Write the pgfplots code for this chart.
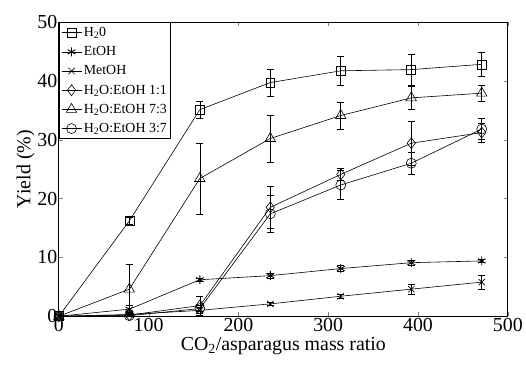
\documentclass[border=0pt]{standalone}
\usepackage{pgfplots}
\pgfplotsset{compat=1.18}
\usetikzlibrary{calc}
\usepackage{fontspec}
\setmainfont{Liberation Serif}
\begin{document}
\begin{tikzpicture}
\begin{axis}[
  name=ax,
  scale only axis,
  width=450bp, height=295bp,
  xmin=0, xmax=500, ymin=0, ymax=50,
  xtick={0,100,...,500}, ytick={0,10,...,50},
  tick align=inside, ticklabel pos=left,
  xtick pos=both, ytick pos=both,
  major tick length=4bp,
  /pgf/number format/assume math mode=true,
  tick label style={font=\fontsize{20}{20}\selectfont},
  xticklabel style={yshift=1bp},
  yticklabel style={xshift=2bp},
  xlabel={CO\textsubscript{2}/asparagus mass ratio},
  ylabel={Yield (\%)},
  label style={font=\fontsize{20}{20}\selectfont},
  xlabel style={yshift=2bp},
  ylabel style={yshift=-4bp},
  axis line style={line width=0.8pt},
  every axis plot/.append style={line width=0.6pt},
  error bars/y dir=both, error bars/y explicit,
  error bars/error mark options={rotate=90, mark size=3.5bp, line width=0.6pt, black},
  error bars/error bar style={line width=0.6pt, black},
  legend cell align=left,
  legend style={font=\fontsize{14}{15}\selectfont, draw=black, line width=0.8pt, inner xsep=2bp, inner ysep=3bp, row sep=4.5bp, at={(0,1)}, anchor=north west},
  legend image code/.code={\draw[mark repeat=2,mark phase=2] plot coordinates {(0bp,0bp) (10bp,0bp) (20bp,0bp)};},
]
\addplot[black, solid, mark=square, mark size=4.5bp, mark options={solid, fill=white}] coordinates {
 (0,0) +- (0,0.3)
 (78.5,16.2) +- (0,0.6)
 (157,35.1) +- (0,1.5)
 (235.5,39.7) +- (0,2.3)
 (314,41.7) +- (0,2.4)
 (392.5,41.9) +- (0,2.6)
 (471,42.8) +- (0,2.1)
};
\addlegendentry{H\textsubscript{2}0}
\addplot[black, solid, mark=asterisk, mark size=4.5bp, mark options={solid, line width=0.9pt}] coordinates {
 (0,0) +- (0,0.2)
 (78.5,1.2) +- (0,0.6)
 (157,6.2) +- (0,0.3)
 (235.5,6.9) +- (0,0.4)
 (314,8.1) +- (0,0.5)
 (392.5,9.1) +- (0,0.4)
 (471,9.4) +- (0,0.3)
};
\addlegendentry{EtOH}
\addplot[black, solid, mark=x, mark size=4.5bp, mark options={solid}] coordinates {
 (0,0) +- (0,0.1)
 (78.5,0.3) +- (0,0.2)
 (157,1.0) +- (0,0.5)
 (235.5,2.1) +- (0,0.3)
 (314,3.4) +- (0,0.4)
 (392.5,4.6) +- (0,0.8)
 (471,5.8) +- (0,1.2)
};
\addlegendentry{MetOH}
\addplot[black, solid, mark=diamond, mark size=5.5bp, mark options={solid, fill=white}] coordinates {
 (0,0) +- (0,0.2)
 (78.5,0.2) +- (0,0.3)
 (157,1.8) +- (0,1.6)
 (235.5,18.5) +- (0,3.6)
 (314,24.1) +- (0,1.0)
 (392.5,29.4) +- (0,3.8)
 (471,31.2) +- (0,1.6)
};
\addlegendentry{H\textsubscript{2}O:EtOH 1:1}
\addplot[black, solid, mark=triangle, mark size=6bp, mark options={solid, fill=white}] coordinates {
 (0,0) +- (0,0.2)
 (78.5,4.6) +- (0,4.2)
 (157,23.4) +- (0,6.0)
 (235.5,30.2) +- (0,4.0)
 (314,34.1) +- (0,2.3)
 (392.5,37.1) +- (0,2.0)
 (471,37.9) +- (0,1.4)
};
\addlegendentry{H\textsubscript{2}O:EtOH 7:3}
\addplot[black, solid, mark=o, mark size=5bp, mark options={solid, fill=white}] coordinates {
 (0,0) +- (0,0.2)
 (78.5,0.1) +- (0,0.2)
 (157,1.3) +- (0,0.5)
 (235.5,17.4) +- (0,3.1)
 (314,22.3) +- (0,2.5)
 (392.5,26.0) +- (0,1.9)
 (471,31.8) +- (0,1.8)
};
\addlegendentry{H\textsubscript{2}O:EtOH 3:7}
\end{axis}
\path[use as bounding box] ($(ax.south west)+(-59bp,-50bp)$) rectangle ($(ax.north east)+(17bp,22bp)$);
\end{tikzpicture}
\end{document}
